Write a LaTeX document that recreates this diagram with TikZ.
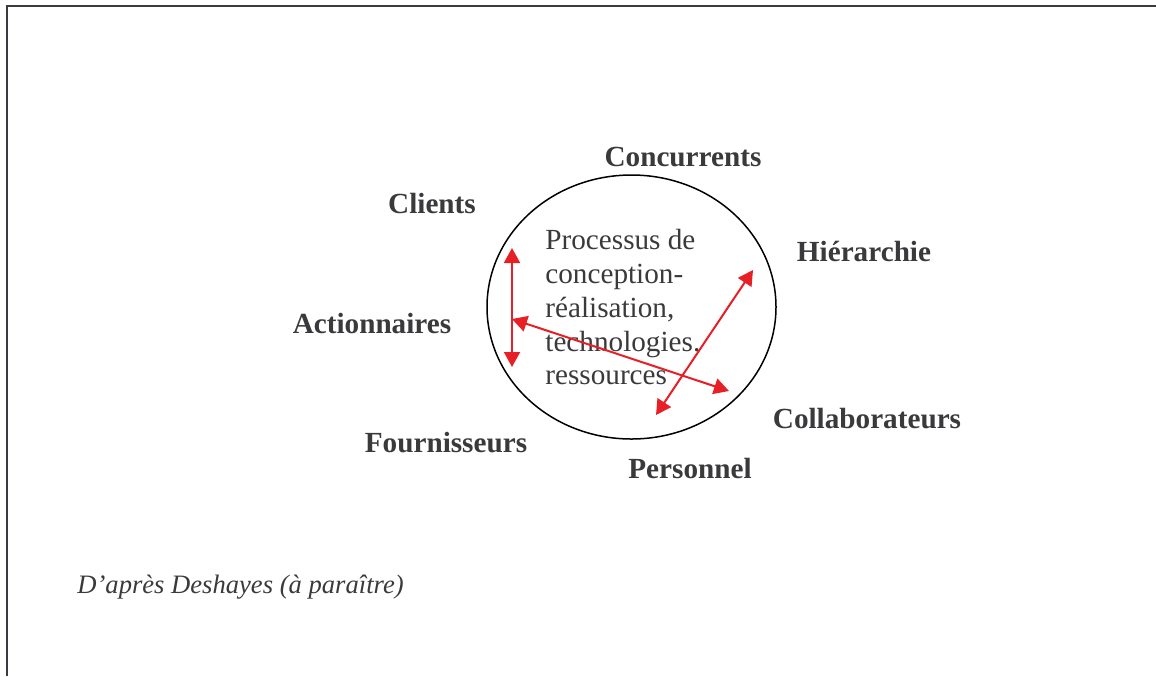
\documentclass[tikz,border=0pt]{standalone}
\usepackage{fontspec}
\setmainfont{Liberation Serif}
\usetikzlibrary{arrows.meta,shapes.geometric}
\definecolor{arrred}{RGB}{230,32,38}
\definecolor{txtgray}{RGB}{58,58,60}
\definecolor{framegray}{RGB}{60,58,64}

\begin{document}
\begin{tikzpicture}[x=0.5pt, y=-0.5pt,
  lbl/.style={inner sep=0pt, text=txtgray, font=\fontsize{14.6}{16.9}\selectfont\bfseries},
  proc/.style={draw, ellipse, line width=0.75pt, minimum width=144.5pt, minimum height=132pt, inner sep=0pt},
  proctext/.style={inner sep=0pt, align=left, text=txtgray, font=\fontsize{14.6}{16.9}\selectfont},
  arr/.style={{Triangle[length=7.5pt,width=8pt]}-{Triangle[length=7.5pt,width=8pt]}, line width=1pt, arrred}
]
\useasboundingbox (0,0) rectangle (1156,676);
% cadre
\draw[framegray, line width=1pt] (7,676) -- (7,6) -- (1156,6);
% processus
\node[proc] (proc) at (631.5,307) {};
\node[proctext, anchor=north west] (txt) at (545,229) {Processus de\\conception-\\réalisation,\\technologies.\\ressources};
% acteurs
\node[lbl] (conc) at (683,157) {Concurrents};
\node[lbl] (cli) at (432,204) {Clients};
\node[lbl] (hier) at (864,251) {Hiérarchie};
\node[lbl] (act) at (372,324) {Actionnaires};
\node[lbl] (coll) at (867,419) {Collaborateurs};
\node[lbl] (four) at (446,443) {Fournisseurs};
\node[lbl] (pers) at (690,468) {Personnel};
% fleches
\coordinate (v1) at (512,248);
\coordinate (v2) at (512,367);
\coordinate (d1) at (512,319);
\coordinate (d2) at (729,391);
\coordinate (e1) at (753,270);
\coordinate (e2) at (656,415);
\draw[arr] (v1) -- (v2);
\draw[arr] (d1) -- (d2);
\draw[arr] (e1) -- (e2);
\node[anchor=west, inner sep=0pt, text=txtgray, font=\fontsize{13.3}{15}\selectfont\itshape] (src) at (77,587) {D’après Deshayes (à paraître)};
\end{tikzpicture}
\end{document}
